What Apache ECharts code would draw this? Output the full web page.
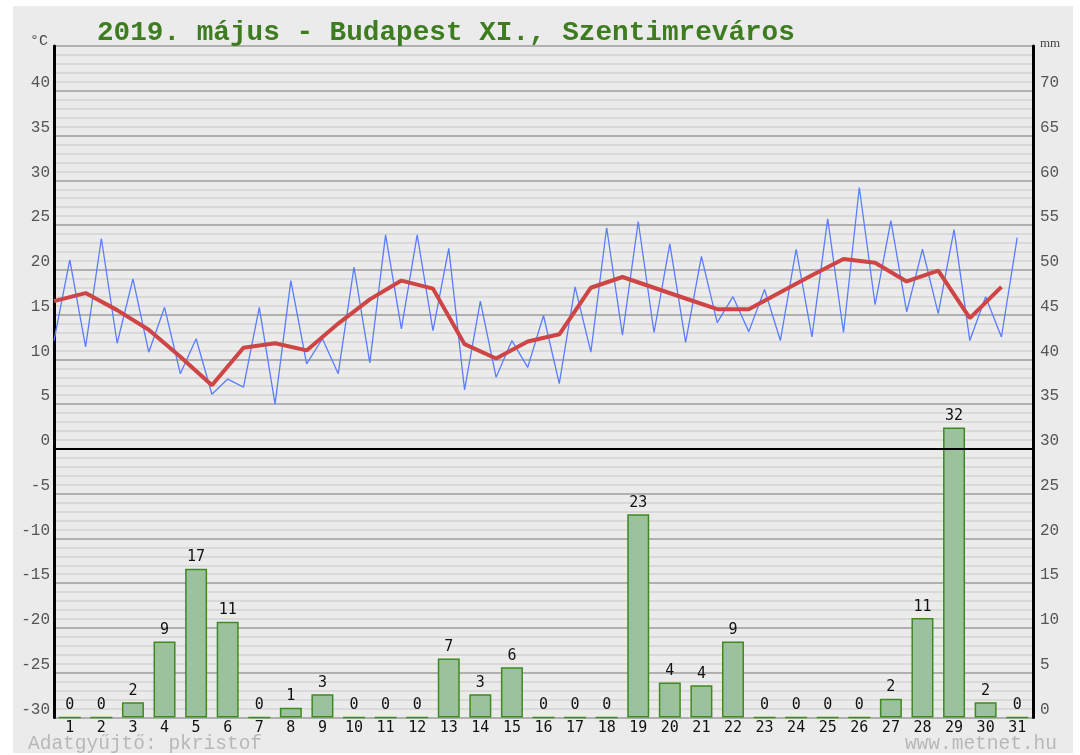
<!DOCTYPE html>
<html>
<head>
<meta charset="utf-8">
<script src="https://cdn.jsdelivr.net/npm/echarts@6/dist/echarts.min.js"></script>
<style>
  body { margin: 0; background: #ffffff; }
  #main { position: absolute; left: 13px; top: 6px; width: 1060px; height: 747px; background: #ebebeb; }
</style>
</head>
<body>
<div id="main"></div>
<script>
// napok
var days = ['1','2','3','4','5','6','7','8','9','10','11','12','13','14','15','16',
  '17','18','19','20','21','22','23','24','25','26','27','28','29','30','31'];

// csapadek (mm), oszlopmagassag
var rain = [0, 0, 1.7, 8.5, 16.6, 10.7, 0, 1.1, 2.6, 0, 0, 0, 6.6, 2.6, 5.6, 0,
  0, 0, 22.7, 3.9, 3.6, 8.5, 0, 0, 0, 0, 2.1, 11.1, 32.4, 1.7, 0];

// min / max homerseklet felvaltva (fel naponkent)
var tempMinMax = [12.1, 21.1, 11.4, 23.5, 11.8, 19.0, 10.8, 15.8, 8.4, 12.3,
  6.1, 7.8, 6.9, 15.8, 5.0, 18.8, 9.5, 12.3, 8.4, 20.3,
  9.6, 23.9, 13.4, 23.9, 13.2, 22.4, 6.6, 16.5, 8.0, 12.1,
  9.1, 14.9, 7.3, 18.1, 10.8, 24.7, 12.7, 25.4, 13.0, 22.9,
  11.9, 21.5, 14.1, 17.0, 13.1, 17.8, 12.1, 22.3, 12.5, 25.7,
  13.0, 29.2, 16.1, 25.5, 15.3, 22.3, 15.1, 24.5, 12.1, 17.0,
  12.5, 23.6];

// napi atlag
var tempAvg = [16.5, 17.4, 15.5, 13.3, 10.3, 7.1, 11.3, 11.8, 11.0, 14.0,
  16.7, 18.8, 17.9, 11.7, 10.1, 12.0, 12.8, 18.0, 19.2, 18.0,
  16.8, 15.6, 15.6, 17.5, 19.4, 21.2, 20.8, 18.7, 19.9, 14.6, 18.1];

var minMaxPts = tempMinMax.map(function (v, i) { return [i * 0.5, v]; });
var avgPts = tempAvg.map(function (v, i) { return [i, v]; });

var chart = echarts.init(document.getElementById('main'));
var mono = 'Liberation Mono';

var option = {
  animation: false,
  title: {
    text: '2019. május - Budapest XI., Szentimreváros',
    left: 79,
    top: 8,
    textStyle: { fontFamily: mono, fontSize: 27.7, fontWeight: 'bold', color: '#3d7d20' }
  },
  grid: { left: 41, right: 40, top: 40, bottom: 35.5 },
  xAxis: [
    {
      type: 'category',
      data: days,
      axisLine: { show: false },
      axisTick: { show: false },
      axisLabel: { color: '#111', fontFamily: 'DejaVu Sans Mono', fontSize: 15, margin: 3 },
      splitLine: { show: false }
    },
    { type: 'value', min: 0, max: 31, show: false, position: 'top' }
  ],
  yAxis: [
    {
      type: 'value', min: -30, max: 45, interval: 5,
      axisLine: { show: true, lineStyle: { color: '#000', width: 3 } },
      axisTick: { show: false },
      axisLabel: { showMaxLabel: false, color: '#555', fontFamily: mono, fontSize: 16,
        verticalAlign: 'bottom', margin: 4 },
      splitLine: { show: true, lineStyle: { color: '#9c9c9c', width: 1.5 } },
      minorTick: { show: false, splitNumber: 5 },
      minorSplitLine: { show: true, lineStyle: { color: '#d9d9d9', width: 2 } }
    },
    {
      type: 'value', min: 0, max: 75, interval: 5,
      axisLine: { show: true, lineStyle: { color: '#000', width: 3 } },
      axisTick: { show: false },
      axisLabel: { showMaxLabel: false, color: '#555', fontFamily: mono, fontSize: 16,
        verticalAlign: 'bottom', margin: 7 },
      splitLine: { show: false }
    }
  ],
  graphic: [
    { type: 'text', left: 17, top: 28, style: { text: '°C', font: '15px Liberation Mono', fill: '#444' } },
    { type: 'text', left: 1027, top: 31, style: { text: 'mm', font: '13px Liberation Serif', fill: '#444' } },
    { type: 'text', left: 15, top: 728, style: { text: 'Adatgyűjtő: pkristof', font: '19.5px Liberation Mono', fill: '#b8b8b8' } },
    { type: 'text', right: 16, top: 728, style: { text: 'www.metnet.hu', font: '19.5px Liberation Mono', fill: '#b8b8b8' } }
  ],
  series: [
    {
      name: 'csapadék',
      type: 'bar',
      xAxisIndex: 0,
      yAxisIndex: 1,
      data: rain,
      barWidth: 22,
      z: 4,
      itemStyle: { color: '#9bc29d', borderColor: '#3f8a1f', borderWidth: 1.5 },
      label: {
        show: true, position: 'top', distance: 4,
        color: '#111', fontFamily: 'DejaVu Sans Mono', fontSize: 15,
        formatter: function (p) { return Math.round(p.value); }
      }
    },
    {
      name: 'min/max',
      type: 'line',
      xAxisIndex: 1,
      yAxisIndex: 0,
      data: minMaxPts,
      showSymbol: false,
      z: 2,
      lineStyle: { color: '#5a7dff', width: 1.3 },
      markLine: {
        silent: true,
        symbol: 'none',
        label: { show: false },
        lineStyle: { color: '#000', width: 2, type: 'solid' },
        data: [{ yAxis: 0 }]
      }
    },
    {
      name: 'átlag',
      type: 'line',
      xAxisIndex: 1,
      yAxisIndex: 0,
      data: avgPts,
      showSymbol: false,
      z: 3,
      lineStyle: { color: '#cf4444', width: 4 }
    }
  ]
};

chart.setOption(option);
</script>
</body>
</html>
